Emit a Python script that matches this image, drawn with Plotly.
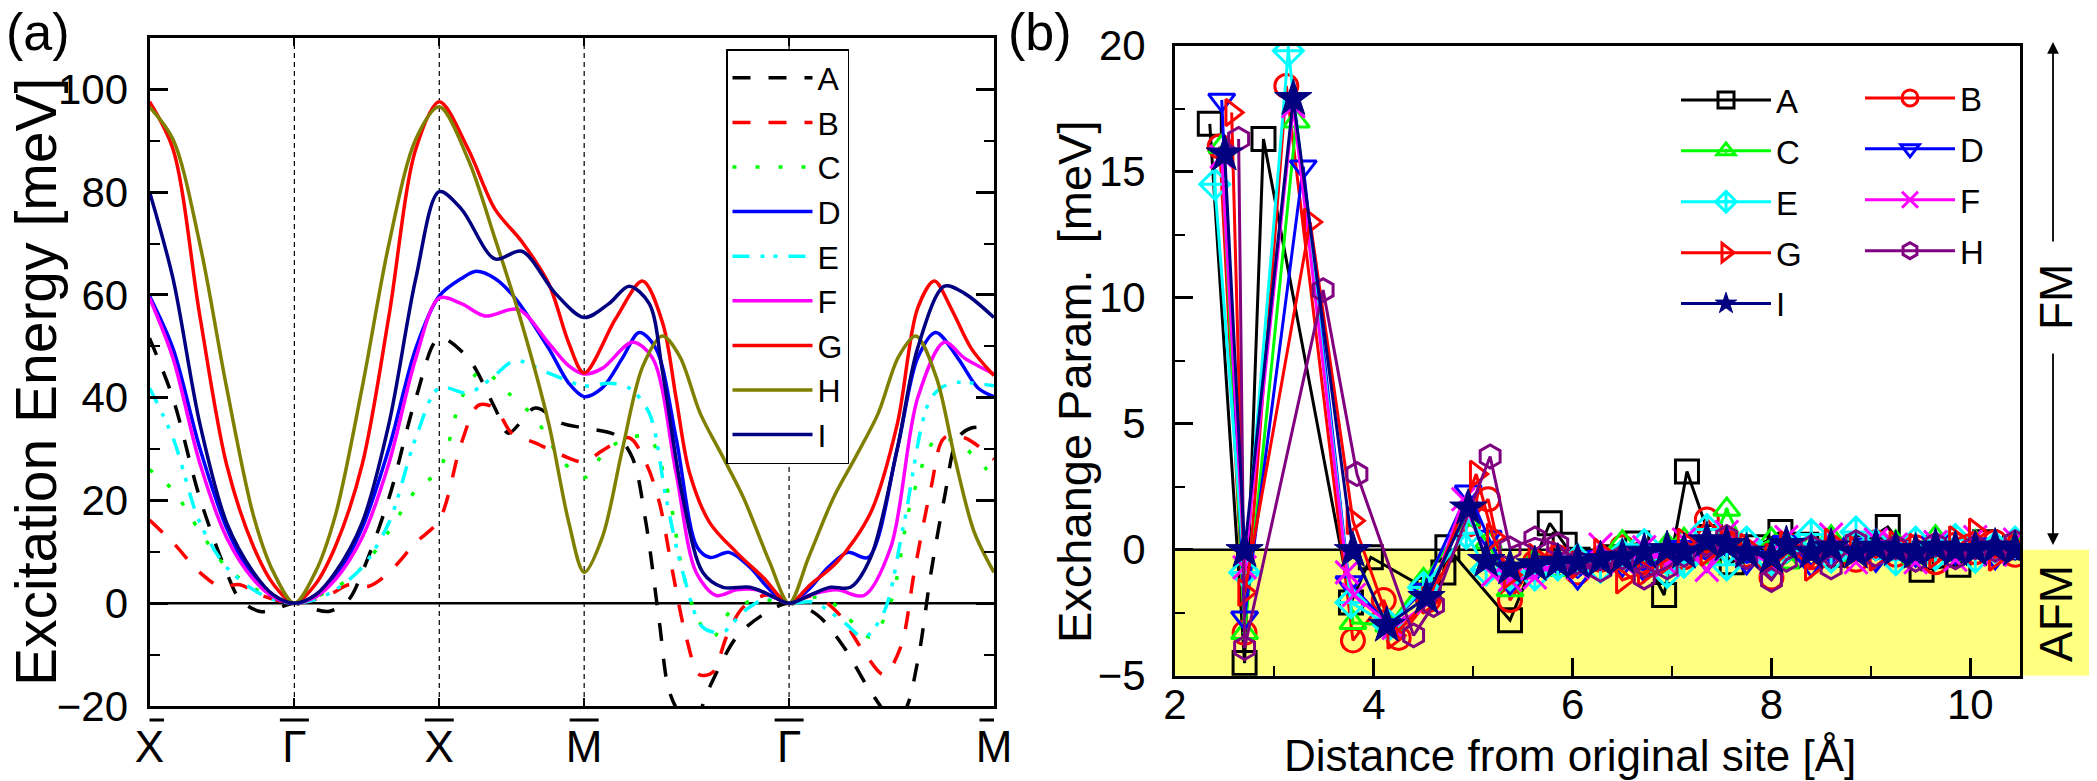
import math
import plotly.graph_objects as go

W, H = 2097, 781
FONT = "Liberation Sans, Arial, sans-serif"

# ---------------- panel (a): path positions (X-G-X-M-G-M) ----------------
L_END = 3 + 2 * math.sqrt(2)
K_POS = [0, 1, 2, 3, 3 + math.sqrt(2), L_END]
K_LAB = ["X", "Γ", "X", "M", "Γ", "M"]

U_A = [0, 0.162, 0.347, 0.532, 0.625, 0.764, 0.88, 1.0, 1.12, 1.236, 1.375, 1.468, 1.653, 1.838, 2.0,
       2.199, 2.384, 2.477, 2.662, 2.847, 3.0, 3.218, 3.333, 3.426, 3.519, 3.588, 3.681, 3.773, 3.866,
       4.051, 4.236, 4.414, 4.606, 4.792, 4.977, 5.116, 5.208, 5.301, 5.394, 5.486, 5.579, 5.671, 5.828]
EN_A = [51.6, 39.9, 20.5, 6, 0.7, -1.6, -1.0, 0, -1.0, -1.6, 0.7, 6, 20.5, 39.9, 51.6,
        47.7, 38, 33.1, 38, 35, 34.1, 32.7, 28.3, 15.7, -3.7, -17.2, -22, -22, -16.3,
        -6.6, -2.2, 0, -2.2, -8.5, -17.2, -22, -21, -11.4, 6, 20.5, 32.2, 34.1, 34.1]

U_B = [0, 0.162, 0.347, 0.486, 0.625, 0.764, 1.0, 1.236, 1.375, 1.514, 1.653, 1.838, 2.0,
       2.153, 2.269, 2.384, 2.5, 2.662, 2.847, 3.0, 3.125, 3.31, 3.426, 3.519, 3.611, 3.704, 3.796,
       3.889, 3.981, 4.097, 4.259, 4.414, 4.583, 4.745, 4.931, 5.069, 5.185, 5.278, 5.394, 5.486,
       5.625, 5.828]
EN_B = [16.2, 11.8, 6, 3.3, 3.6, 1.6, 0, 1.6, 3.6, 3.3, 6, 11.8, 16.2,
        31.2, 38.5, 38, 33.1, 31.2, 28.8, 27.5, 29.7, 32.2, 27.3, 19.6, 6, -6.6, -13.9,
        -13.4, -6.6, -0.8, 1.6, 0, 1.4, -1.7, -9.5, -13.9, -8.5, 6, 22.5, 32.2,
        32.2, 28]

U_C = [0, 0.162, 0.347, 0.532, 0.718, 0.856, 1.0, 1.144, 1.282, 1.468, 1.653, 1.838, 2.0,
       2.153, 2.292, 2.477, 2.662, 2.847, 3.0, 3.148, 3.31, 3.449, 3.588, 3.681, 3.796, 3.889,
       4.005, 4.19, 4.414, 4.653, 4.815, 4.977, 5.116, 5.255, 5.44, 5.625, 5.828]
EN_C = [26, 22, 14, 7, 3, 1.2, 0, 1.2, 3, 7, 14, 22, 26,
        39.9, 45.3, 40.9, 36, 27.8, 24.4, 29.7, 32.2, 32.2, 20.5, 6, -3.7, -6.6,
        -1.7, 0.7, 0, 1.2, -2.7, -6.6, 0.2, 19.6, 32.2, 30.2, 24.4]

U_D = [0, 0.162, 0.347, 0.532, 0.718, 0.856, 1.0, 1.144, 1.282, 1.468, 1.653, 1.838, 2.0,
       2.153, 2.255, 2.384, 2.523, 2.755, 2.894, 3.0, 3.125, 3.264, 3.38, 3.495, 3.634, 3.78,
       3.87, 4.0, 4.144, 4.282, 4.414, 4.546, 4.684, 4.82, 4.96, 5.162, 5.301, 5.426, 5.579,
       5.718, 5.828]
EN_D = [59.8, 49.6, 30.2, 14.7, 5, 1.2, 0, 1.2, 5, 14.7, 30.2, 49.6, 59.8,
        63.2, 64.6, 63.2, 59.4, 49.6, 42.8, 40.2, 41.9, 47.7, 52.7, 49.6, 32.2, 10.9,
        8.9, 9.9, 7, 2.6, 0, 2.6, 7, 9.9, 8.9, 30.2, 47.7, 52.7, 47.7,
        41.9, 40.2]

U_E = [0, 0.162, 0.347, 0.532, 0.718, 0.856, 1.0, 1.144, 1.282, 1.468, 1.653, 1.838, 2.0,
       2.199, 2.361, 2.523, 2.755, 3.0, 3.171, 3.31, 3.449, 3.565, 3.681, 3.819, 3.958, 4.097,
       4.282, 4.414, 4.583, 4.792, 4.931, 5.069, 5.208, 5.394, 5.532, 5.828]
EN_E = [41.9, 32.2, 15.7, 7, 2.6, 0.7, 0, 0.7, 2.6, 7, 15.7, 32.2, 41.9,
        40.9, 43.8, 47.2, 44.8, 42.3, 42.8, 41.9, 37, 20.5, 6, -4.7, -5.6, -1.7,
        1.2, 0, 0.2, -3.7, -6.6, -1.7, 15.7, 39.9, 42.8, 42.3]

U_F = [0, 0.162, 0.347, 0.532, 0.718, 0.856, 1.0, 1.144, 1.282, 1.468, 1.653, 1.838, 2.0,
       2.153, 2.315, 2.546, 2.755, 2.894, 3.0, 3.125, 3.333, 3.472, 3.634, 3.773, 3.912, 4.051,
       4.19, 4.306, 4.414, 4.56, 4.745, 4.931, 5.116, 5.301, 5.486, 5.625, 5.828]
EN_F = [59.4, 47.7, 27.3, 12.8, 4.6, 1.2, 0, 1.2, 4.6, 12.8, 27.3, 47.7, 59.4,
        58.3, 55.9, 57.2, 50.6, 46.2, 44.6, 45.7, 50.8, 47.7, 25.4, 6, 1.5, 2.6,
        2.6, 1.2, 0, 1.6, 2.6, 1.5, 10.9, 39.9, 50.8, 47.7, 44.6]

U_G = [0, 0.162, 0.347, 0.532, 0.718, 0.86, 1.0, 1.14, 1.282, 1.468, 1.653, 1.838, 2.0,
       2.199, 2.384, 2.569, 2.755, 2.894, 3.0, 3.218, 3.403, 3.542, 3.634, 3.727, 3.866, 4.051,
       4.236, 4.414, 4.56, 4.745, 4.977, 5.162, 5.301, 5.417, 5.532, 5.671, 5.828]
EN_G = [97.6, 88.4, 56, 27, 11, 3.5, 0, 3.5, 11, 27, 56, 88.4, 97.6,
        88.4, 76.7, 70.4, 62.2, 50.6, 44.8, 55.4, 62.7, 54.5, 40, 25.4, 15.7, 9.9,
        5, 0, 3.6, 8, 17.6, 35, 57.4, 62.7, 57.4, 49.6, 44.3]

U_H = [0, 0.162, 0.347, 0.532, 0.718, 0.856, 1.0, 1.144, 1.282, 1.468, 1.653, 1.838, 2.0,
       2.199, 2.384, 2.569, 2.755, 2.894, 3.0, 3.125, 3.264, 3.403, 3.54, 3.66, 3.8, 3.96,
       4.1, 4.28, 4.414, 4.55, 4.72, 4.87, 5.03, 5.17, 5.29, 5.43, 5.56, 5.69, 5.828]
EN_H = [96.6, 90.3, 70, 42, 17, 6, 0, 6, 17, 42, 70, 90.3, 96.6,
        86.4, 71, 54.5, 35, 15.7, 6, 12.8, 30, 46, 52, 48, 37, 28.3,
        20.5, 8, 0, 9, 20.5, 28.3, 37, 48, 52, 44, 28, 14, 6]

U_I = [0, 0.162, 0.347, 0.532, 0.718, 0.856, 1.0, 1.144, 1.282, 1.468, 1.653, 1.838, 2.0,
       2.153, 2.384, 2.569, 2.801, 3.0, 3.171, 3.31, 3.449, 3.542, 3.681, 3.819, 3.958, 4.144,
       4.282, 4.414, 4.56, 4.699, 4.838, 4.977, 5.162, 5.301, 5.486, 5.625, 5.828]
EN_I = [80.1, 63.2, 35, 15.7, 6, 1.6, 0, 1.6, 6, 15.7, 35, 63.2, 80.1,
        76.7, 67, 68.5, 60.3, 55.6, 58.3, 61.7, 58.3, 44.8, 20.5, 6, 3.1, 3.1,
        1.6, 0, 1.6, 3.1, 3.1, 8.9, 30.2, 49.6, 61.7, 60.3, 55.6]

NAMES = ["A", "B", "C", "D", "E", "F", "G", "H", "I"]
COL_A = ["#000000", "#FF0000", "#00FF00", "#0000FF", "#00FFFF", "#FF00FF", "#FF0000", "#808000", "#000080"]
DASH_A = ["18px,18px", "18px,18px", "4px,19px", "solid", "17px,11px,4px,9px,4px,11px",
          "solid", "solid", "solid", "solid"]

# ---------------- panel (b): exchange parameters ----------------
X_A = [2.35, 2.70, 2.89, 3.77, 3.97, 4.55, 4.70, 4.74, 5.37, 5.77, 5.92, 6.05, 6.4, 6.65, 6.92,
       7.15, 7.38, 7.6, 7.85, 8.09, 8.35, 8.6, 8.85, 9.17, 9.51, 9.88, 10.15, 10.45]
Y_A = [16.9, -4.5, 16.3, -2.1, -0.3, -1.6, -0.9, 0.1, -2.8, 1.05, 0.2, -0.4, -0.3, 0.25, -1.8,
       3.1, 0.5, -0.5, 0.1, 0.7, 0.2, -0.2, 0.1, 0.9, -0.8, -0.6, 0.3, 0.1]

TAIL_X = [5.62, 5.85, 6.05, 6.28, 6.5, 6.72, 6.95, 7.12, 7.35, 7.55, 7.75, 8.0, 8.15, 8.4,
          8.6, 8.85, 9.05, 9.25, 9.45, 9.65, 9.85, 10.05, 10.25, 10.45]

X_B = [2.45, 2.70, 3.12, 3.79, 4.10, 4.25, 4.55, 4.95, 5.15, 5.37] + TAIL_X
Y_B = [16.0, -3.3, 18.4, -3.6, -2.0, -3.5, -2.0, 1.0, 2.0, -2.0,
       -0.5, -0.3, -0.9, -0.4, 0.1, -0.5, -0.2, -0.3, 1.2, 0.3, -0.2, -1.1, 0.2, -0.3,
       0.1, -0.4, 0.3, -0.2, 0.1, -0.5, 0.2, -0.1, 0.3, -0.2]
X_C = [2.47, 2.70, 3.22, 3.79, 4.15, 4.50, 4.93, 5.15, 5.37] + TAIL_X
Y_C = [16.0, -3.3, 17.0, -2.9, -3.0, -1.2, 1.2, 0.3, -1.6,
       -0.4, -0.8, -0.6, -0.2, 0.3, -0.4, 0.2, 0.4, -0.3, 1.6, -0.1, 0.4, -0.5, 0.2,
       0.5, -0.2, 0.1, 0.3, -0.3, 0.5, -0.2, 0.3, 0.0, 0.2]
X_D = [2.47, 2.70, 3.29, 3.75, 4.15, 4.50, 4.95, 5.15, 5.37] + TAIL_X
Y_D = [17.85, -2.7, 15.2, -1.3, -3.0, -1.6, 2.3, 0.5, -1.3,
       -0.8, -0.5, -1.1, -0.3, -0.6, -0.8, -0.2, 0.1, -0.4, 0.2, -0.5, -0.3, 0.3, -0.6,
       -0.1, 0.2, -0.4, 0.1, -0.2, 0.3, -0.1, 0.2, -0.3, 0.1]
X_E = [2.40, 2.70, 3.14, 3.77, 4.15, 4.50, 4.93, 5.13, 5.37] + TAIL_X
Y_E = [14.5, -0.9, 19.8, -2.1, -3.0, -1.5, 0.65, -0.8, -1.0,
       -1.0, -0.6, -0.4, -0.7, -0.2, 0.2, -0.9, -0.5, 0.8, -0.6, 0.3, -0.4, 0.1, 0.6,
       -0.3, 0.7, 0.2, -0.4, 0.3, -0.2, 0.4, -0.3, 0.1, 0.3]
X_F = [2.47, 2.70, 3.19, 3.73, 3.80, 4.20, 4.55, 4.90, 5.20, 5.37] + TAIL_X
Y_F = [15.6, -0.7, 17.6, -0.9, -1.8, -3.1, -2.1, 2.0, -1.0, -1.2,
       -1.1, -0.4, -0.7, 0.2, -0.5, 0.1, -0.6, 0.4, -0.8, 0.7, 0.0, -0.6, 0.5, -0.2,
       0.6, -0.5, 0.4, 0.2, -0.5, 0.3, -0.4, 0.5, -0.2, 0.4]
X_G = [2.57, 2.70, 3.36, 3.79, 4.20, 4.55, 5.03, 5.20, 5.37] + TAIL_X
Y_G = [17.35, -1.7, 13.0, 1.15, -3.4, -2.0, 3.0, 0.5, -1.0,
       -0.3, -0.2, -0.6, -0.1, -1.2, -0.9, -0.4, 0.3, -0.1, 0.4, 0.1, -0.3, 0.2, -0.7,
       0.3, 0.0, -0.3, 0.2, 0.1, -0.2, 0.4, 0.7, -0.3, 0.1]
X_H = [2.64, 2.70, 3.49, 3.83, 4.40, 4.60, 5.17, 5.37] + TAIL_X
Y_H = [16.3, -3.9, 10.3, 3.0, -3.4, -2.2, 3.7, 0.05,
       0.45, 0.2, -0.5, -0.8, -0.3, -1.1, -0.7, -0.2, 0.2, 0.5, -0.3, -1.2, -0.4, 0.1,
       -0.7, 0.3, -0.2, 0.1, -0.4, 0.2, -0.3, 0.1, 0.0, 0.3]
X_I = [2.50, 2.70, 3.19, 3.79, 4.13, 4.53, 4.95, 5.13, 5.37] + TAIL_X
Y_I = [15.7, -0.04, 17.9, -0.04, -3.0, -1.9, 1.65, -0.43, -0.73,
       -0.6, -0.5, -0.5, -0.4, -0.3, -0.1, 0.0, -0.1, 0.35, 0.2, -0.1, -0.3, 0.2, -0.1,
       0.1, -0.1, 0.1, 0.0, -0.1, 0.1, 0.0, 0.0, 0.1, 0.0]

COL_B = ["#000000", "#FF0000", "#00FF00", "#0000FF", "#00FFFF", "#FF00FF", "#FF0000", "#800080", "#000080"]
SYM_B = ["square-open", "circle-open", "triangle-up-open-dot", "triangle-down-open",
         "diamond-cross-open", "x-thin-open", "triangle-right-open", "hexagon-open", "star"]
LEG_B = ["legend2", "legend3", "legend2", "legend3", "legend2", "legend3", "legend2", "legend3", "legend2"]


def py(v):
    """pixel row (from top) -> paper y"""
    return (H - v) / H


def px(v):
    return v / W


fig = go.Figure()

PANEL_A = [(U_A, EN_A), (U_B, EN_B), (U_C, EN_C), (U_D, EN_D), (U_E, EN_E),
           (U_F, EN_F), (U_G, EN_G), (U_H, EN_H), (U_I, EN_I)]
for i, (u, e) in enumerate(PANEL_A):
    fig.add_trace(go.Scatter(
        x=u, y=e, mode="lines", name=NAMES[i], xaxis="x", yaxis="y", legend="legend",
        line=dict(color=COL_A[i], width=3.5, dash=DASH_A[i], shape="spline", smoothing=0.9),
    ))

PANEL_B = [(X_A, Y_A), (X_B, Y_B), (X_C, Y_C), (X_D, Y_D), (X_E, Y_E),
           (X_F, Y_F), (X_G, Y_G), (X_H, Y_H), (X_I, Y_I)]
for i, (x, y) in enumerate(PANEL_B):
    star = SYM_B[i] == "star"
    fig.add_trace(go.Scatter(
        x=x, y=y, mode="lines+markers", name=NAMES[i], xaxis="x2", yaxis="y2",
        legend=LEG_B[i], legendgroup="b" + NAMES[i],
        line=dict(color=COL_B[i], width=3),
        marker=dict(symbol=SYM_B[i], size=28 if star else 23, color=COL_B[i],
                    line=dict(color=COL_B[i], width=1 if star else 3)),
    ))

axis_common = dict(showline=True, linewidth=3, linecolor="black", showgrid=False, zeroline=False,
                   automargin=False, ticks="inside", tickcolor="black",
                   tickfont=dict(family=FONT, size=42, color="black"))

fig.update_layout(
    template="none",
    width=W, height=H,
    margin=dict(l=0, r=0, t=0, b=0, pad=0),
    paper_bgcolor="white", plot_bgcolor="rgba(0,0,0,0)",
    font=dict(family=FONT, color="black"),
    xaxis=dict(axis_common, domain=[px(149.5), px(994)], range=[0, L_END], anchor="y",
               tickvals=K_POS, ticktext=K_LAB, ticklen=8, tickwidth=2, mirror="ticks",
               tickfont=dict(family=FONT, size=44, color="black"), ticklabelstandoff=0),
    yaxis=dict(axis_common, domain=[py(706), py(38)], range=[-20, 110], anchor="x",
               tickvals=[-20, 0, 20, 40, 60, 80, 100], ticklen=18, tickwidth=3, mirror="ticks",
               minor=dict(dtick=10, tick0=0, ticklen=10, tickwidth=2, ticks="inside", tickcolor="black"),
               ticklabelstandoff=10),
    xaxis2=dict(axis_common, domain=[px(1175), px(2020)], range=[2, 10.5], anchor="y2",
                tickvals=[2, 4, 6, 8, 10], ticklen=18, tickwidth=3, mirror=True,
                minor=dict(dtick=1, tick0=2, ticklen=10, tickwidth=2, ticks="inside", tickcolor="black"),
                ticklabelstandoff=-10),
    yaxis2=dict(axis_common, domain=[py(675.7), py(45.7)], range=[-5, 20], anchor="x2",
                tickvals=[-5, 0, 5, 10, 15, 20], ticklen=18, tickwidth=3, mirror=True,
                minor=dict(dtick=2.5, tick0=0, ticklen=10, tickwidth=2, ticks="inside", tickcolor="black"),
                ticklabelstandoff=18),
    legend=dict(x=px(726), y=py(49), xanchor="left", yanchor="top", bgcolor="white",
                bordercolor="black", borderwidth=1.5, itemwidth=80,
                font=dict(family=FONT, size=32, color="black")),
    legend2=dict(x=px(1676), y=py(72), xanchor="left", yanchor="top", bgcolor="rgba(0,0,0,0)",
                 borderwidth=0, itemwidth=90, tracegroupgap=5,
                 font=dict(family=FONT, size=33, color="black")),
    legend3=dict(x=px(1860), y=py(70), xanchor="left", yanchor="top", bgcolor="rgba(0,0,0,0)",
                 borderwidth=0, itemwidth=90, tracegroupgap=5,
                 font=dict(family=FONT, size=33, color="black")),
)

shapes = []
# AFM yellow band (panel b) extending past the right frame
shapes.append(dict(type="rect", xref="x2 domain", yref="y2", x0=0, x1=(2089 - 1175) / (2020 - 1175),
                   y0=-5, y1=0, fillcolor="#FFFF80", line=dict(width=0), layer="below"))
# zero lines
shapes.append(dict(type="line", xref="x domain", yref="y", x0=0, x1=1, y0=0, y1=0,
                   line=dict(color="black", width=2.5), layer="below"))
shapes.append(dict(type="line", xref="x2 domain", yref="y2", x0=0, x1=1, y0=0, y1=0,
                   line=dict(color="black", width=2.5), layer="below"))
# high-symmetry dashed verticals
for k in K_POS[1:-1]:
    shapes.append(dict(type="line", xref="x", yref="y domain", x0=k, x1=k, y0=0, y1=1,
                       line=dict(color="black", width=1.2, dash="5px,4px"), layer="below"))
# overbars on k-point labels
for k in K_POS:
    shapes.append(dict(type="line", xref="x", yref="paper", x0=k - 0.1, x1=k + 0.1,
                       y0=py(720), y1=py(720), line=dict(color="black", width=3)))
fig.update_layout(shapes=shapes)


def label(text, x, y, size, angle=0):
    return dict(text=text, x=px(x), y=py(y), xref="paper", yref="paper", showarrow=False,
                xanchor="center", yanchor="middle", textangle=angle,
                font=dict(family=FONT, size=size, color="black"))


ann = [
    label("(a)", 38, 32, 52),
    label("(b)", 1040, 32, 52),
    label("Excitation Energy [meV]", 36, 382, 57, -90),
    label("Exchange Param.  [meV]", 1074, 382, 47, -90),
    label("Distance from original site [Å]", 1570, 755, 44),
    label("FM", 2056, 297, 46, -90),
    label("AFM", 2056, 614, 46, -90),
]
# FM / AFM arrows
ann.append(dict(text="", x=px(2053), y=py(42), xref="paper", yref="paper", showarrow=True,
                ax=0, ay=201, arrowhead=2, arrowsize=1.3, arrowwidth=1.8, arrowcolor="black"))
ann.append(dict(text="", x=px(2053), y=py(545), xref="paper", yref="paper", showarrow=True,
                ax=0, ay=-193, arrowhead=2, arrowsize=1.3, arrowwidth=1.8, arrowcolor="black"))
fig.update_layout(annotations=ann)

fig.write_html("out.html")
